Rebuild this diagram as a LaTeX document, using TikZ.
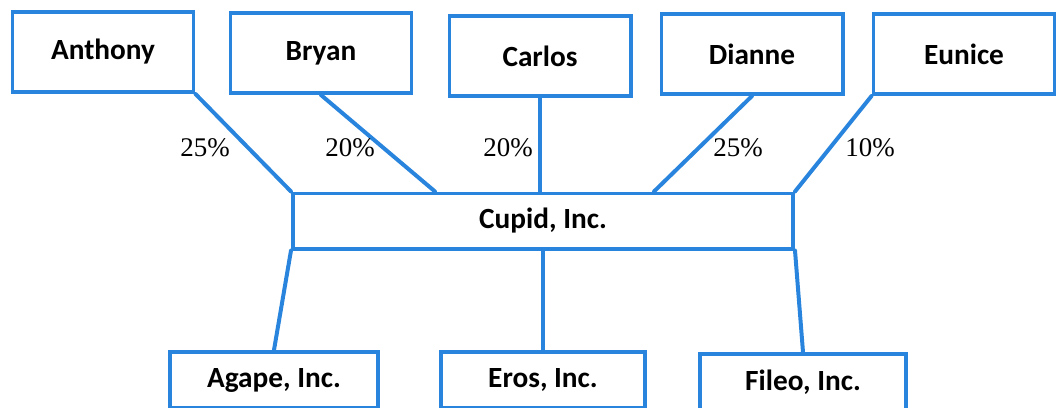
\documentclass[tikz,border=0pt]{standalone}
\usepackage{fontspec}
\setmainfont{Carlito}
\newfontfamily\pctfont{Liberation Serif}
\usetikzlibrary{calc}
\definecolor{chartblue}{RGB}{40,132,220}

\begin{document}
\begin{tikzpicture}[x=0.03cm,y=-0.03cm]

	\tikzstyle person box=[draw=chartblue, line width=3.4pt, fill=white, minimum width=5.43cm, minimum height=2.4cm, inner sep=0pt, font=\fontsize{25}{30}\selectfont\bfseries];
	\tikzstyle company box=[person box, minimum height=1.68cm];
	\tikzstyle share lines=[chartblue, line width=3.4pt, line cap=round];
	\tikzstyle share label=[font=\fontsize{23}{28}\selectfont\pctfont];

	\useasboundingbox (0,0) rectangle (1056,407);
	\clip (0,0) rectangle (1056,407);

	\foreach \name/\x/\y in {Anthony/103/52,Bryan/321/53,Carlos/540/56,Dianne/752/54,Eunice/964/54}
		\node[person box] (\name) at (\x,\y) {\name};

	\node[company box, minimum height=1.65cm, minimum width=15cm] (Cupid) at (543,221) {Cupid, Inc.};
	\node[company box, minimum width=6.24cm] (Agape) at (274,380) {Agape, Inc.};
	\node[company box, minimum width=6.12cm] (Eros) at (543,380) {Eros, Inc.};
	\node[company box, minimum width=6.18cm] (Fileo) at (803,382) {Fileo, Inc.};

	% owners
	\draw[share lines] (Anthony.south east) -- (Cupid.north west);
	\draw[share lines] (Bryan.south) -- ($(Cupid.north west)+(144,0)$);
	\draw[share lines] (Carlos.south) -- (Carlos.south |- Cupid.north);
	\draw[share lines] (Dianne.south) -- ($(Cupid.north west)+(363,0)$);
	\draw[share lines] (Eunice.south west) -- (Cupid.north east);

	% subsidiaries
	\draw[share lines] (Cupid.south west) -- (Agape.north);
	\draw[share lines] (Cupid.south) -- (Eros.north);
	\draw[share lines] (Cupid.south east) -- (Fileo.north);

	\node[share label] (pctAnthony) at (205,148) {25\%};
	\node[share label] (pctBryan) at (350,148) {20\%};
	\node[share label] (pctCarlos) at (508,148) {20\%};
	\node[share label] (pctDianne) at (738,148) {25\%};
	\node[share label] (pctEunice) at (870,148) {10\%};

\end{tikzpicture}
\end{document}
